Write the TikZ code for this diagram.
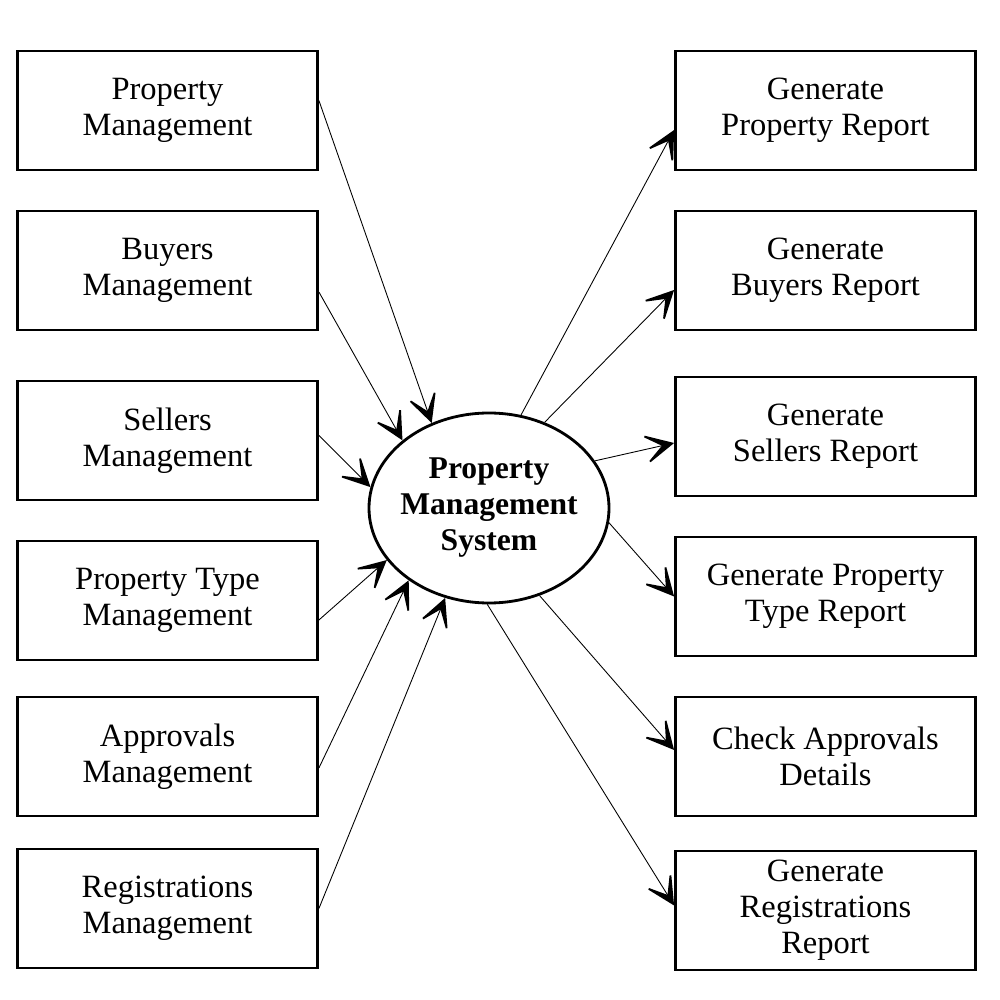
\documentclass[tikz,border=0pt]{standalone}
\usepackage{fontspec}
\setmainfont{Liberation Serif}
\usepackage{tikz}
\usetikzlibrary{shapes,arrows.meta}
\usetikzlibrary{positioning}
\tikzset{
  box/.style={draw,line width=1.6pt,minimum width=6cm,minimum height=2.38cm,align=center,font=\fontsize{18.5}{20.5}\selectfont},
  sys/.style={draw,ellipse,line width=1.6pt,minimum width=4.8cm,minimum height=3.8cm,inner sep=0pt},
  flow/.style={line width=0.5pt,-{Stealth[length=0.7cm,width=0.7cm,inset=0.45cm,line width=1pt]}}
}
\begin{document}
\begin{tikzpicture}
\useasboundingbox (0,0) rectangle (20,20);
% inputs
\node[box] (pm) at (3.35,17.79) {Property\\Management};
\node[box] (bm) at (3.35,14.59) {Buyers\\Management};
\node[box] (sm) at (3.35,11.19) {Sellers\\Management};
\node[box] (ptm) at (3.35,7.99) {Property Type\\Management};
\node[box] (am) at (3.35,4.87) {Approvals\\Management};
\node[box] (rm) at (3.35,1.83) {Registrations\\Management};
% reports
\node[box] (gpr) at (16.51,17.79) {Generate\\Property Report};
\node[box] (gbr) at (16.51,14.59) {Generate\\Buyers Report};
\node[box] (gsr) at (16.51,11.27) {Generate\\Sellers Report};
\node[box] (gptr) at (16.51,8.07) {Generate Property\\Type Report};
\node[box] (cad) at (16.51,4.87) {Check Approvals\\Details};
\node[box] (grr) at (16.51,1.79) {Generate\\Registrations\\Report};
% system
\node[sys] (pms) at (9.78,9.84) {};
\node[align=center,font=\fontsize{18}{20.5}\selectfont\bfseries] at (pms.center) {Property\\Management\\System};
\draw[flow] ([yshift=0.2cm]pm.east) -- (pms.124);
\draw[flow] ([yshift=-0.43cm]bm.east) -- (pms.142);
\draw[flow] ([yshift=0.1cm]sm.east) -- (pms.170);
\draw[flow] ([yshift=-0.39cm]ptm.east) -- (pms.207);
\draw[flow] ([yshift=-0.23cm]am.east) -- (pms.222);
\draw[flow] (rm.east) -- (pms.244);
\draw[flow] (pms.71) -- ([yshift=-0.39cm]gpr.west);
\draw[flow] (pms.57) -- ([yshift=-0.39cm]gbr.west);
\draw[flow] (pms.24) -- ([yshift=-0.13cm]gsr.west);
\draw[flow] (pms.-7) -- (gptr.west);
\draw[flow] (pms.-60) -- ([yshift=0.13cm]cad.west);
\draw[flow] (pms.-91) -- ([yshift=0.1cm]grr.west);
\end{tikzpicture}
\end{document}
